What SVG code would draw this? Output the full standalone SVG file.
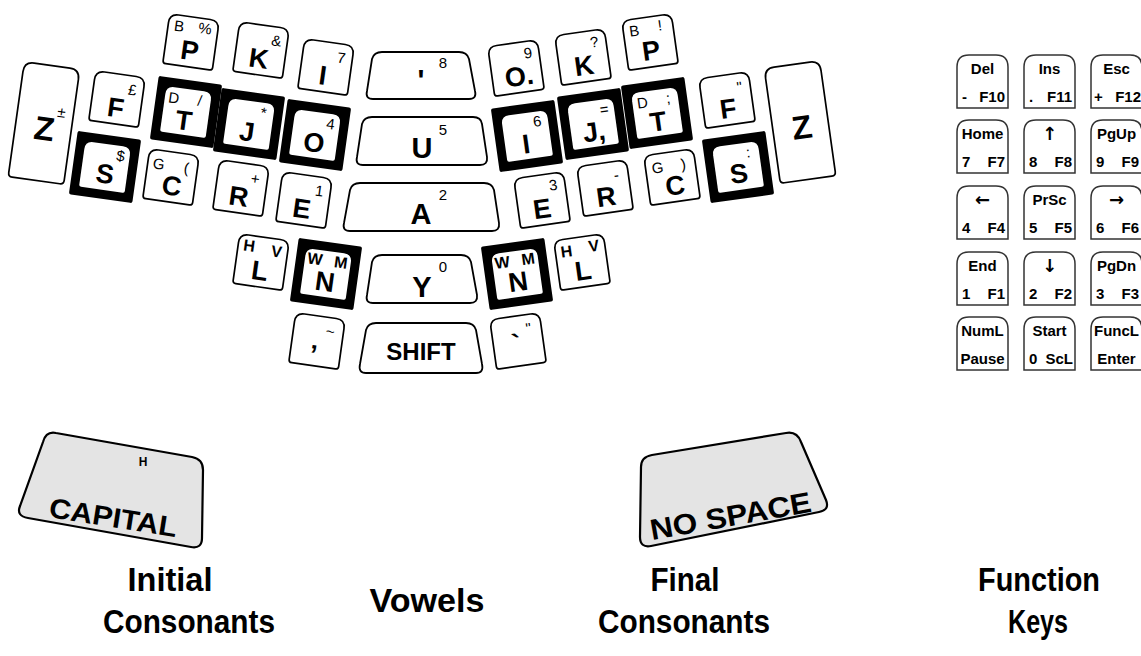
<svg xmlns="http://www.w3.org/2000/svg" xmlns:xlink="http://www.w3.org/1999/xlink" width="1141" height="656" viewBox="0 0 1141 656">
<style>
.k{fill:#fff;stroke:#000;stroke-width:1.7}
.vk{fill:#fff;stroke:#000;stroke-width:1.8}
.fk{fill:#fff;stroke:#333;stroke-width:1.5}
.tk{fill:#e4e4e4;stroke:#000;stroke-width:2.2}
text{font-family:"Liberation Sans",Arial,sans-serif;fill:#000}
.m{font-weight:bold;font-size:27px;text-anchor:middle}
.mz{font-weight:bold;font-size:33px;text-anchor:middle}
.v{font-weight:bold;font-size:29px;text-anchor:middle}
.s{font-size:15px;text-anchor:middle}
.sb{font-size:16px;text-anchor:middle;font-weight:bold}
.ft{font-weight:bold;font-size:15px;fill:#1a1a1a}
.fc{text-anchor:middle}
.fe{text-anchor:end}
.ar{font-size:18px;font-family:"DejaVu Sans",sans-serif}
.lab{font-weight:bold;font-size:34px;text-anchor:middle}
</style>
<defs>
<path id="nk" class="k" d="M-25,22 L-25,-16 Q-25,-25 -16,-25 L16,-25 Q25,-25 25,-16 L25,22 Q25,25 22,25 L-22,25 Q-25,25 -25,22 Z"/>
<g id="tk">
<rect x="-32" y="-32" width="64" height="64" rx="2" fill="#000"/>
<path d="M-23,21 L-23,-15 Q-23,-23 -15,-23 L15,-23 Q23,-23 23,-15 L23,21 Q23,23 21,23 L-21,23 Q-23,23 -23,21 Z" fill="#fff"/>
</g>
<path id="zk" class="k" d="M-28,54 L-28,-48 Q-28,-58 -18,-58 L18,-58 Q28,-58 28,-48 L28,54 Q28,58 24,58 L-24,58 Q-28,58 -28,54 Z"/>
<path id="fkey" class="fk" d="M0,53 L0,12 Q0,0 12,0 L39,0 Q51,0 51,12 L51,53 Z"/>
</defs>

<!-- Left hand: initial consonants -->
<g id="key-Z-left" transform="translate(44,123) rotate(8)"><use xlink:href="#zk"/><text class="mz" x="1" y="17">Z</text><text class="s" x="16" y="-8">±</text></g>
<g id="key-F-left" transform="translate(117,99) rotate(8)"><use xlink:href="#nk"/><text class="m" x="0" y="18">F</text><text class="s" x="14" y="-6">£</text></g>
<g id="key-S-left" transform="translate(105,167) rotate(8)"><use xlink:href="#tk"/><text class="m" x="1" y="16">S</text><text class="s" x="14" y="-8">$</text></g>
<g id="key-C-left" transform="translate(171,177) rotate(8)"><use xlink:href="#nk"/><text class="m" x="2" y="18">C</text><text class="s" x="-14" y="-6">G</text><text class="s" x="14" y="-6">(</text></g>
<g id="key-P-left" transform="translate(191,42) rotate(8)"><use xlink:href="#nk"/><text class="m" x="0" y="18">P</text><text class="s" x="-14" y="-9">B</text><text class="s" x="12" y="-10">%</text></g>
<g id="key-K-left" transform="translate(261,50) rotate(8)"><use xlink:href="#nk"/><text class="m" x="-1" y="18">K</text><text class="s" x="14" y="-6">&amp;</text></g>
<g id="key-I-left" transform="translate(326,67) rotate(8)"><use xlink:href="#nk"/><text class="m" x="-2" y="18">I</text><text class="s" x="14" y="-6">7</text></g>
<g id="key-T-left" transform="translate(186,112) rotate(8)"><use xlink:href="#tk"/><text class="m" x="-1" y="18">T</text><text class="s" x="-14" y="-7">D</text><text class="s" x="12" y="-8">/</text></g>
<g id="key-J-left" transform="translate(249,124) rotate(8)"><use xlink:href="#tk"/><text class="m" x="-1" y="17">J</text><text class="s" x="13" y="-8">*</text></g>
<g id="key-O-left" transform="translate(315,135) rotate(8)"><use xlink:href="#tk"/><text class="m" x="0" y="17">O</text><text class="s" x="14" y="-8">4</text></g>
<g id="key-R-left" transform="translate(241,188) rotate(8)"><use xlink:href="#nk"/><text class="m" x="-1" y="18">R</text><text class="s" x="13" y="-6">+</text></g>
<g id="key-E-left" transform="translate(304,200) rotate(8)"><use xlink:href="#nk"/><text class="m" x="-1" y="18">E</text><text class="s" x="14" y="-6">1</text></g>
<g id="key-L-left" transform="translate(261,262) rotate(8)"><use xlink:href="#nk"/><text class="m" x="0" y="18">L</text><text class="sb" x="-14" y="-9">H</text><text class="sb" x="14" y="-7">V</text></g>
<g id="key-N-left" transform="translate(326,274) rotate(8)"><use xlink:href="#tk"/><text class="m" x="0" y="17">N</text><text class="sb" x="-13" y="-8">W</text><text class="sb" x="13" y="-8">M</text></g>
<g id="key-tilde" transform="translate(317,341) rotate(8)"><use xlink:href="#nk"/><text class="m" x="-2" y="8">‚</text><text class="s" x="12" y="-6">~</text></g>

<!-- Vowels -->
<g id="key-apostrophe"><path class="vk" d="M382,52 L459,52 Q467,52 469,59 L475,91 Q477,99 469,99 L373,99 Q365,99 367,91 L372,59 Q374,52 382,52 Z"/><text class="v" x="421" y="90">'</text><text class="s" x="443" y="68">8</text></g>
<g id="key-U"><path class="vk" d="M372,117 L473,117 Q481,117 482,124 L487,157 Q488,165 480,165 L363,165 Q355,165 357,157 L362,124 Q364,117 372,117 Z"/><text class="v" x="422" y="158">U</text><text class="s" x="443" y="135">5</text></g>
<g id="key-A"><path class="vk" d="M360,183 L484,183 Q492,183 494,190 L499,223 Q500,231 492,231 L350,231 Q342,231 344,223 L350,190 Q352,183 360,183 Z"/><text class="v" x="421" y="224">A</text><text class="s" x="443" y="200">2</text></g>
<g id="key-Y"><path class="vk" d="M382,255 L461,255 Q469,255 471,262 L477,295 Q478,303 470,303 L373,303 Q365,303 367,295 L372,262 Q374,255 382,255 Z"/><text class="v" x="422" y="297">Y</text><text class="s" x="443" y="272">0</text></g>
<g id="key-SHIFT"><path class="vk" d="M376,323 L466,323 Q474,323 476,330 L482,364 Q484,373 476,373 L366,373 Q358,373 360,364 L366,330 Q368,323 376,323 Z"/><text class="m" x="421" y="360" style="font-size:24px">SHIFT</text></g>

<!-- Right hand: final consonants -->
<g id="key-O-right" transform="translate(516,68) rotate(-8)"><use xlink:href="#nk"/><text class="m" x="2" y="18">O.</text><text class="s" x="14" y="-8">9</text></g>
<g id="key-K-right" transform="translate(583,57) rotate(-8)"><use xlink:href="#nk"/><text class="m" x="0" y="18">K</text><text class="s" x="13" y="-8">?</text></g>
<g id="key-P-right" transform="translate(650,42) rotate(-8)"><use xlink:href="#nk"/><text class="m" x="0" y="18">P</text><text class="s" x="-14" y="-8">B</text><text class="s" x="12" y="-10">!</text></g>
<g id="key-I-right" transform="translate(527,136) rotate(-8)"><use xlink:href="#tk"/><text class="m" x="-2" y="17">I</text><text class="s" x="12" y="-8">6</text></g>
<g id="key-J-right" transform="translate(593,124) rotate(-8)"><use xlink:href="#tk"/><text class="m" x="0" y="17">J,</text><text class="s" x="13" y="-8">=</text></g>
<g id="key-T-right" transform="translate(657,113) rotate(-8)"><use xlink:href="#tk"/><text class="m" x="0" y="18">T</text><text class="s" x="-13" y="-7">D</text><text class="s" x="13" y="-8">;</text></g>
<g id="key-F-right" transform="translate(727,100) rotate(-8)"><use xlink:href="#nk"/><text class="m" x="0" y="18">F</text><text class="s" x="14" y="-6">"</text></g>
<g id="key-Z-right" transform="translate(800,122) rotate(-8)"><use xlink:href="#zk"/><text class="mz" x="1" y="17">Z</text></g>
<g id="key-E-right" transform="translate(542,200) rotate(-8)"><use xlink:href="#nk"/><text class="m" x="-1" y="18">E</text><text class="s" x="13" y="-8">3</text></g>
<g id="key-R-right" transform="translate(605,188) rotate(-8)"><use xlink:href="#nk"/><text class="m" x="0" y="18">R</text><text class="s" x="13" y="-6">-</text></g>
<g id="key-C-right" transform="translate(672,177) rotate(-8)"><use xlink:href="#nk"/><text class="m" x="2" y="18">C</text><text class="s" x="-13" y="-6">G</text><text class="s" x="13" y="-6">)</text></g>
<g id="key-S-right" transform="translate(738,167) rotate(-8)"><use xlink:href="#tk"/><text class="m" x="0" y="16">S</text><text class="s" x="12" y="-8">:</text></g>
<g id="key-N-right" transform="translate(517,274) rotate(-8)"><use xlink:href="#tk"/><text class="m" x="0" y="17">N</text><text class="sb" x="-13" y="-8">W</text><text class="sb" x="13" y="-8">M</text></g>
<g id="key-L-right" transform="translate(582,262) rotate(-8)"><use xlink:href="#nk"/><text class="m" x="0" y="18">L</text><text class="sb" x="-14" y="-7">H</text><text class="sb" x="14" y="-9">V</text></g>
<g id="key-grave" transform="translate(518,341) rotate(-8)"><use xlink:href="#nk"/><text class="m" x="-2" y="12">`</text><text class="s" x="12" y="-6">"</text></g>

<!-- Function keys -->
<g id="fkeys" class="ft">
<g id="fk-Del" transform="translate(957,55)"><use xlink:href="#fkey"/><text class="fc" x="25.5" y="19">Del</text><text x="5" y="47">-</text><text class="fe" x="48" y="47">F10</text></g>
<g id="fk-Ins" transform="translate(1024,55)"><use xlink:href="#fkey"/><text class="fc" x="25.5" y="19">Ins</text><text x="5" y="47">.</text><text class="fe" x="48" y="47">F11</text></g>
<g id="fk-Esc" transform="translate(1091,55)"><use xlink:href="#fkey"/><text class="fc" x="25.5" y="19">Esc</text><text x="3" y="47">+</text><text class="fe" x="50" y="47">F12</text></g>
<g id="fk-Home" transform="translate(957,120)"><use xlink:href="#fkey"/><text class="fc" x="25.5" y="19">Home</text><text x="5" y="47">7</text><text class="fe" x="48" y="47">F7</text></g>
<g id="fk-Up" transform="translate(1024,120)"><use xlink:href="#fkey"/><text class="fc ar" x="25.5" y="20">↑</text><text x="5" y="47">8</text><text class="fe" x="48" y="47">F8</text></g>
<g id="fk-PgUp" transform="translate(1091,120)"><use xlink:href="#fkey"/><text class="fc" x="25.5" y="19">PgUp</text><text x="5" y="47">9</text><text class="fe" x="48" y="47">F9</text></g>
<g id="fk-Left" transform="translate(957,186)"><use xlink:href="#fkey"/><text class="fc ar" x="25.5" y="20">←</text><text x="5" y="47">4</text><text class="fe" x="48" y="47">F4</text></g>
<g id="fk-PrSc" transform="translate(1024,186)"><use xlink:href="#fkey"/><text class="fc" x="25.5" y="19">PrSc</text><text x="5" y="47">5</text><text class="fe" x="48" y="47">F5</text></g>
<g id="fk-Right" transform="translate(1091,186)"><use xlink:href="#fkey"/><text class="fc ar" x="25.5" y="20">→</text><text x="5" y="47">6</text><text class="fe" x="48" y="47">F6</text></g>
<g id="fk-End" transform="translate(957,252)"><use xlink:href="#fkey"/><text class="fc" x="25.5" y="19">End</text><text x="5" y="47">1</text><text class="fe" x="48" y="47">F1</text></g>
<g id="fk-Down" transform="translate(1024,252)"><use xlink:href="#fkey"/><text class="fc ar" x="25.5" y="20">↓</text><text x="5" y="47">2</text><text class="fe" x="48" y="47">F2</text></g>
<g id="fk-PgDn" transform="translate(1091,252)"><use xlink:href="#fkey"/><text class="fc" x="25.5" y="19">PgDn</text><text x="5" y="47">3</text><text class="fe" x="48" y="47">F3</text></g>
<g id="fk-NumL" transform="translate(957,317)"><use xlink:href="#fkey"/><text class="fc" x="25.5" y="19">NumL</text><text class="fc" x="25.5" y="47">Pause</text></g>
<g id="fk-Start" transform="translate(1024,317)"><use xlink:href="#fkey"/><text class="fc" x="25.5" y="19">Start</text><text x="5" y="47">0</text><text class="fe" x="49" y="47">ScL</text></g>
<g id="fk-FuncL" transform="translate(1091,317)"><use xlink:href="#fkey"/><text class="fc" x="25.5" y="19">FuncL</text><text class="fc" x="25.5" y="47">Enter</text></g>
</g>

<!-- Thumb keys -->
<g id="key-CAPITAL"><path class="tk" d="M56,433 L192,457 Q203,459 203,470 L202,538 Q202,549 191,547 L28,518 Q16,516 20,506 L43,442 Q46,431 56,433 Z"/><text x="143" y="466" style="font-weight:bold;font-size:12px;text-anchor:middle">H</text><text x="48" y="517" transform="rotate(9 48 517)" textLength="129" lengthAdjust="spacingAndGlyphs" style="font-weight:bold;font-size:28px">CAPITAL</text></g>
<g id="key-NOSPACE"><path class="tk" d="M652,455 L786,433 Q797,431 801,442 L826,500 Q830,510 819,512 L651,546 Q640,548 640,537 L641,467 Q641,457 652,455 Z"/><text x="652" y="540" transform="rotate(-10 652 540)" textLength="163" lengthAdjust="spacingAndGlyphs" style="font-weight:bold;font-size:29px">NO SPACE</text></g>

<!-- Labels -->
<g id="labels">
<text class="lab" x="170" y="591" textLength="85" lengthAdjust="spacingAndGlyphs">Initial</text>
<text class="lab" x="189" y="633" textLength="172" lengthAdjust="spacingAndGlyphs">Consonants</text>
<text class="lab" x="427" y="612" textLength="115" lengthAdjust="spacingAndGlyphs">Vowels</text>
<text class="lab" x="685" y="591" textLength="69" lengthAdjust="spacingAndGlyphs">Final</text>
<text class="lab" x="684" y="633" textLength="172" lengthAdjust="spacingAndGlyphs">Consonants</text>
<text class="lab" x="1039" y="591" textLength="122" lengthAdjust="spacingAndGlyphs">Function</text>
<text class="lab" x="1038" y="633" textLength="60" lengthAdjust="spacingAndGlyphs">Keys</text>
</g>
</svg>
